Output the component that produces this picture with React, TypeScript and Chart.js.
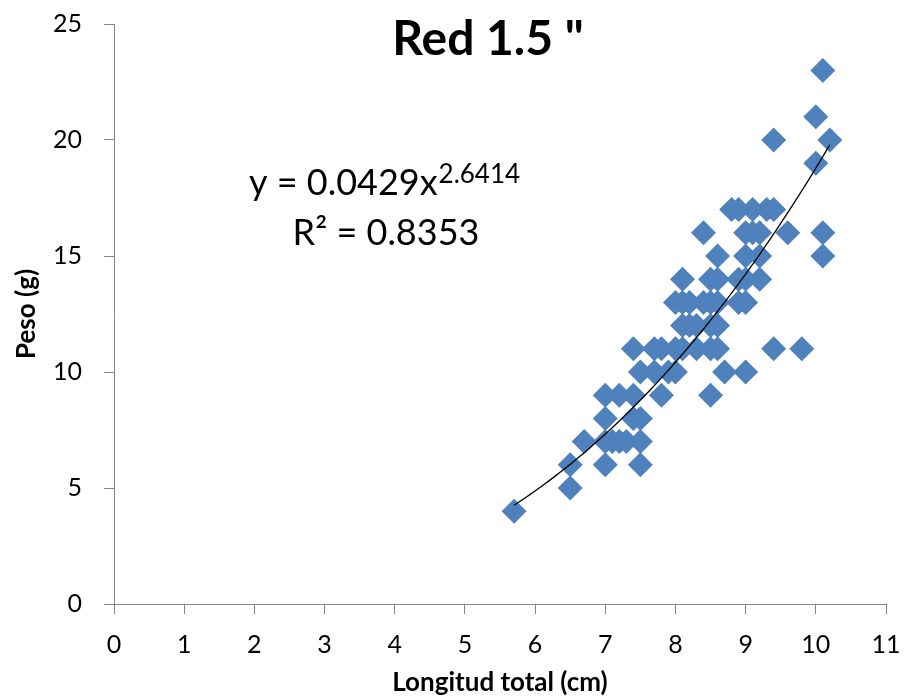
import React, { useEffect, useRef } from "react";
import { Chart, registerables } from "chart.js";

Chart.register(...registerables);

// Longitud total (cm) of each fish
const longitud = [
  5.7,
  6.5, 6.5,
  6.7,
  7.0, 7.0, 7.0, 7.0,
  7.1, 7.2, 7.3, 7.5,
  7.2, 7.4,
  7.4, 7.5,
  7.5,
  7.4,
  7.5, 7.7, 7.9, 8.0,
  7.8,
  7.7, 7.8, 8.0, 8.1, 8.3, 8.5, 8.6,
  8.1, 8.2, 8.3, 8.5, 8.6,
  8.0, 8.1, 8.2, 8.4, 8.5, 8.6, 8.9, 9.0,
  8.1, 8.5, 8.6, 8.9, 9.0, 9.2,
  8.6, 9.0, 9.2, 10.1,
  8.4, 9.0, 9.1, 9.2, 9.6, 10.1,
  8.8, 8.9, 9.1, 9.3, 9.4,
  8.5,
  8.7, 9.0,
  9.4, 9.8,
  9.4, 10.0, 10.0, 10.1, 10.2,
];

// Peso (g) of each fish
const peso = [
  4,
  5, 6,
  7,
  6, 7, 8, 9,
  7, 7, 7, 7,
  9, 9,
  8, 8,
  6,
  11,
  10, 10, 10, 10,
  9,
  11, 11, 11, 11, 11, 11, 11,
  12, 12, 12, 12, 12,
  13, 13, 13, 13, 13, 13, 13, 13,
  14, 14, 14, 14, 14, 14,
  15, 15, 15, 15,
  16, 16, 16, 16, 16, 16,
  17, 17, 17, 17, 17,
  9,
  10, 10,
  11, 11,
  20, 19, 21, 23, 20,
];

const xTickValues = [0, 1, 2, 3, 4, 5, 6, 7, 8, 9, 10, 11];
const yTickValues = [0, 5, 10, 15, 20, 25];

const chartTitle = 'Red 1.5 "';
const xAxisTitle = "Longitud total (cm)";
const yAxisTitle = "Peso (g)";

// Power trendline shown on the chart: y = a * x^b
const trendA = 0.0429;
const trendB = 2.6414;
const trendR2 = 0.8353;
const trendFrom = 5.7;
const trendTo = 10.2;

const FONT = "Lato, 'Open Sans', sans-serif";
const AXIS_COLOR = "#868686";
const POINT_COLOR = "#4F81BD";

const overlayPlugin = {
  id: "overlay",
  afterDatasetsDraw(chart: any) {
    const ctx = chart.ctx;
    const xs = chart.scales.x;
    const ys = chart.scales.y;
    // trendline
    ctx.save();
    ctx.beginPath();
    const steps = 120;
    for (let i = 0; i <= steps; i++) {
      const xv = trendFrom + ((trendTo - trendFrom) * i) / steps;
      const yv = trendA * Math.pow(xv, trendB);
      const px = xs.getPixelForValue(xv);
      const py = ys.getPixelForValue(yv);
      if (i === 0) ctx.moveTo(px, py);
      else ctx.lineTo(px, py);
    }
    ctx.strokeStyle = "#000000";
    ctx.lineWidth = 1.3;
    ctx.stroke();
    ctx.restore();
  },
  afterDraw(chart: any) {
    const ctx = chart.ctx;
    const area = chart.chartArea;
    ctx.save();
    ctx.fillStyle = "#000000";
    ctx.textBaseline = "alphabetic";

    // title
    ctx.font = `bold 48px ${FONT}`;
    ctx.textAlign = "center";
    ctx.fillText(chartTitle, 488, 55);

    // equation
    const main1 = `y = ${trendA.toFixed(4)}x`;
    const sup1 = trendB.toFixed(4);
    ctx.font = `36px ${FONT}`;
    const w1 = ctx.measureText(main1).width;
    ctx.font = `26px ${FONT}`;
    const w2 = ctx.measureText(sup1).width;
    const cx = 384;
    const left1 = cx - (w1 + w2) / 2;
    ctx.textAlign = "left";
    ctx.font = `36px ${FONT}`;
    ctx.fillText(main1, left1, 195);
    ctx.font = `26px ${FONT}`;
    ctx.fillText(sup1, left1 + w1 + 1, 183);
    ctx.font = `36px ${FONT}`;
    ctx.textAlign = "center";
    ctx.fillText(`R\u00B2 = ${trendR2.toFixed(4)}`, cx + 2, 245);

    // axis titles
    ctx.font = `bold 26px ${FONT}`;
    ctx.textAlign = "center";
    ctx.fillText(xAxisTitle, (area.left + area.right) / 2, 691);
    ctx.translate(27, (area.top + area.bottom) / 2);
    ctx.rotate(-Math.PI / 2);
    ctx.textBaseline = "middle";
    ctx.fillText(yAxisTitle, 0, 0);
    ctx.restore();
  },
};

export default function App() {
  const canvasRef = useRef<HTMLCanvasElement | null>(null);

  useEffect(() => {
    document.body.style.margin = "0";
    const canvas = canvasRef.current;
    if (!canvas) return;
    const points = longitud.map((x, i) => ({ x, y: peso[i] }));
    const chart = new Chart(canvas, {
      type: "scatter",
      data: {
        datasets: [
          {
            data: points,
            pointStyle: "rectRot",
            pointRadius: 12.5,
            pointHoverRadius: 12.5,
            backgroundColor: POINT_COLOR,
            borderColor: POINT_COLOR,
            borderWidth: 0,
          },
        ],
      },
      options: {
        responsive: false,
        animation: false,
        events: [],
        layout: { padding: { top: 24, right: 18, left: 0, bottom: 0 } },
        plugins: {
          legend: { display: false },
          tooltip: { enabled: false },
          title: { display: false },
        },
        scales: {
          x: {
            type: "linear",
            min: 0,
            max: 11,
            afterBuildTicks: (scale: any) => {
              scale.ticks = xTickValues.map((v) => ({ value: v }));
            },
            afterFit: (scale: any) => {
              scale.height = 93;
              scale.paddingLeft = 0;
              scale.paddingRight = 0;
            },
            ticks: {
              color: "#000000",
              font: { family: FONT, size: 25 },
              padding: 16,
              maxRotation: 0,
              autoSkip: false,
            },
            grid: {
              drawOnChartArea: false,
              drawTicks: true,
              tickLength: 10,
              color: AXIS_COLOR,
              lineWidth: 1,
            },
            border: { color: AXIS_COLOR, width: 1 },
          },
          y: {
            type: "linear",
            min: 0,
            max: 25,
            afterBuildTicks: (scale: any) => {
              scale.ticks = yTickValues.map((v) => ({ value: v }));
            },
            afterFit: (scale: any) => {
              scale.width = 114;
              scale.paddingTop = 0;
              scale.paddingBottom = 0;
            },
            ticks: {
              color: "#000000",
              font: { family: FONT, size: 25 },
              padding: 22,
              autoSkip: false,
            },
            grid: {
              drawOnChartArea: false,
              drawTicks: true,
              tickLength: 10,
              color: AXIS_COLOR,
              lineWidth: 1,
            },
            border: { color: AXIS_COLOR, width: 1 },
          },
        },
      },
      plugins: [overlayPlugin],
    });
    return () => chart.destroy();
  }, []);

  return (
    <div style={{ width: 904, height: 697, background: "#ffffff" }}>
      <canvas ref={canvasRef} width={904} height={697} style={{ display: "block" }} />
    </div>
  );
}
